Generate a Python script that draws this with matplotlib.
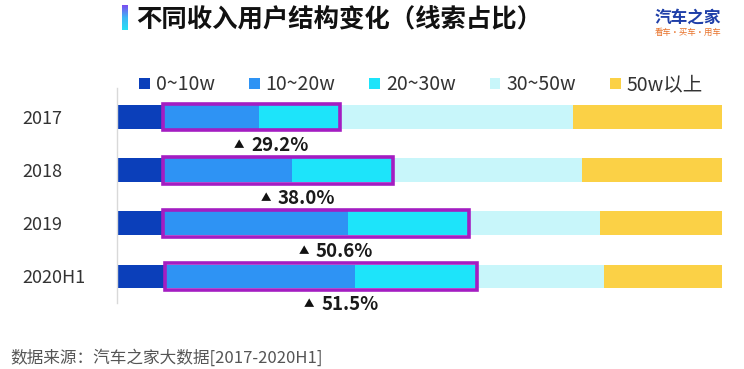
import numpy as np
import matplotlib
matplotlib.use('Agg')
import matplotlib.pyplot as plt
from matplotlib.patches import Rectangle
from matplotlib.colors import LinearSegmentedColormap

plt.rcParams['font.family'] = ['Noto Sans CJK SC', 'DejaVu Sans']

years = ['2017', '2018', '2019', '2020H1']
series = ['0~10w', '10~20w', '20~30w', '30~50w', '50w以上']
s_0_10 = [7.6, 7.6, 7.6, 8.0]
s_10_20 = [15.8, 21.3, 30.6, 31.3]
s_20_30 = [13.4, 16.7, 20.0, 20.2]
s_30_50 = [38.6, 31.3, 21.6, 21.0]
s_50_up = [24.6, 23.1, 20.2, 19.5]
box_labels = ['29.2%', '38.0%', '50.6%', '51.5%']

colors = ['#0B3FBA', '#2E93F4', '#1DE4FA', '#C8F6FA', '#FBD146']
purple = '#A41DC2'

fig = plt.figure(figsize=(7.44, 3.69), dpi=100)
ax = fig.add_axes([117/744, 1-303/369, 605/744, 215/369])

data = np.array([s_0_10, s_10_20, s_20_30, s_30_50, s_50_up])
y = np.arange(len(years))
left = np.zeros(len(years))
bh = 0.45
for i, vals in enumerate(data):
    ax.barh(y, vals, left=left, height=bh, color=colors[i], label=series[i], linewidth=0)
    left = left + vals

# purple boxes around the 10~30w share
for j in range(len(years)):
    x0 = s_0_10[j]
    w = s_10_20[j] + s_20_30[j]
    ax.add_patch(Rectangle((x0, y[j]-0.25), w, 0.5, fill=False,
                           edgecolor=purple, linewidth=2.6, zorder=5, clip_on=False))
    xm = x0 + w/2
    ax.annotate('▲', (xm, y[j]+0.53), xytext=(-5, 0), textcoords='offset points',
                ha='right', va='center', fontsize=7.5, color='#111111',
                annotation_clip=False)
    ax.text(xm, y[j]+0.53, box_labels[j], ha='left', va='center',
            fontsize=13.5, fontweight='bold', color='#1a1a1a')

ax.set_xlim(0, 100)
ax.set_ylim(3.5, -0.55)
ax.set_yticks(y)
ax.set_yticklabels(years, fontsize=13, color='#333333')
ax.tick_params(axis='y', length=0, pad=68)
ax.set_xticks([])
for s in ['top', 'right', 'bottom']:
    ax.spines[s].set_visible(False)
ax.spines['left'].set_color('#d9d9d9')
ax.spines['left'].set_linewidth(1)
for t in ax.get_yticklabels():
    t.set_ha('left')

leg = fig.legend(loc='center', bbox_to_anchor=(421/744, 1-85/369), ncol=5, frameon=False,
                 fontsize=14, handlelength=0.55, handleheight=0.55, handletextpad=0.3,
                 columnspacing=1.75, labelcolor='#333333')

# title with gradient bar
grad = np.linspace(0, 1, 50).reshape(-1, 1)
gax = fig.add_axes([122/744, 1-30/369, 6/744, 25/369])
cm = LinearSegmentedColormap.from_list('g', ['#7B4DF0', '#3FB6F5', '#27E0F5'])
gax.imshow(grad, aspect='auto', cmap=cm)
gax.axis('off')
fig.text(136/744, 1-20/369, '不同收入用户结构变化（线索占比）', fontsize=18.3,
         fontweight='bold', ha='left', va='center', color='#111111')

# logo
fig.text(688/744, 1-18/369, '汽车之家', fontsize=12, fontweight='bold',
         color='#1F3FA8', ha='center', va='center')
fig.text(688/744, 1-32/369, '看车·买车·用车', fontsize=6, color='#E8722A',
         ha='center', va='center')

fig.text(10/744, 1-367/369, '数据来源：汽车之家大数据[2017-2020H1]', fontsize=12,
         color='#555555', ha='left', va='bottom')

fig.savefig('out.png', dpi=100)
